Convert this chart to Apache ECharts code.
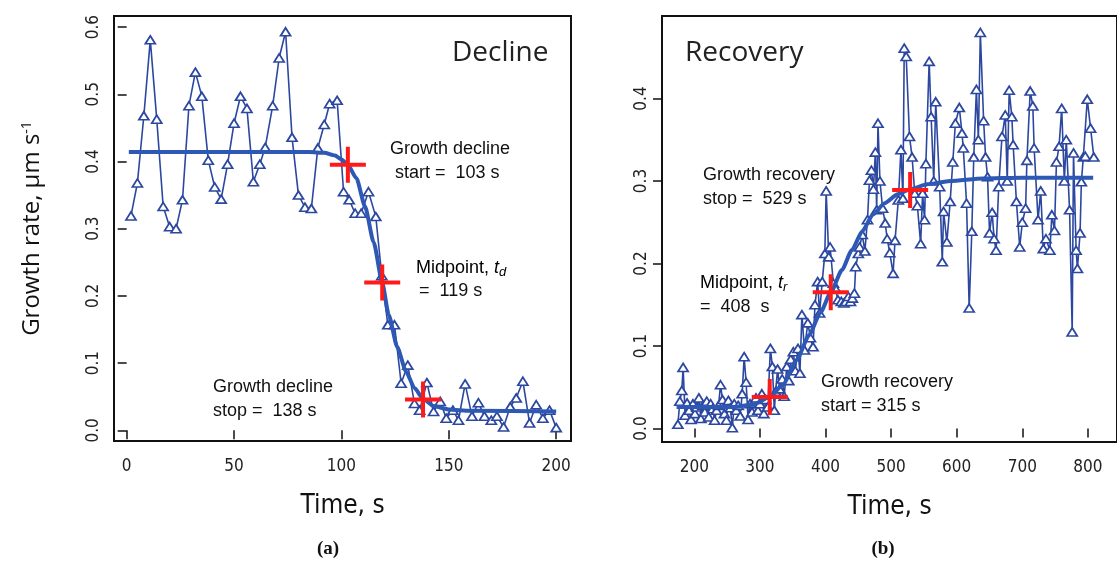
<!DOCTYPE html>
<html><head><meta charset="utf-8">
<script src="https://cdn.jsdelivr.net/npm/echarts@6/dist/echarts.min.js"></script>
<style>html,body{margin:0;padding:0;background:#fff}#c{width:1117px;height:567px}</style>
</head><body><div id="c"></div>
<script>
// ---- Panel (a): Decline ----
const timeA = [2,5,8,11,14,17,20,23,26,29,32,35,38,41,44,47,50,53,56,59,62,64.5,68,71,74,77,80,83,86,89,92,94.5,98,101,103.6,106.4,109.2,112.6,116,118.8,121.6,124.7,127.8,130.9,134,136.4,139.8,142.9,146,148.8,151.9,154.5,157.6,160.8,163.8,166.6,169.8,172.4,175.5,178.6,181.4,184.5,187.6,190.7,193.8,196.9,200];
const rateA = [0.319,0.368,0.468,0.581,0.463,0.333,0.303,0.300,0.343,0.483,0.533,0.497,0.402,0.362,0.344,0.396,0.457,0.497,0.479,0.370,0.396,0.421,0.483,0.554,0.593,0.436,0.350,0.332,0.330,0.420,0.455,0.486,0.491,0.355,0.343,0.323,0.323,0.355,0.318,0.230,0.157,0.157,0.070,0.097,0.040,0.030,0.071,0.028,0.043,0.018,0.030,0.015,0.069,0.021,0.041,0.021,0.015,0.021,0.005,0.035,0.048,0.073,0.011,0.038,0.018,0.030,0.004];
const fitTimeA = [1,85,92,97,100,103,107,111,115,119,122,126,130,134,138,143,150,160,200];
const fitRateA = [0.414,0.414,0.413,0.409,0.403,0.395,0.375,0.333,0.280,0.220,0.172,0.124,0.088,0.063,0.047,0.036,0.031,0.029,0.028];
const markTimeA = [103,119,138];
const markRateA = [0.395,0.220,0.046];
const xTicksA = [0,50,100,150,200];
const yTicksA = [0,0.1,0.2,0.3,0.4,0.5,0.6];

// ---- Panel (b): Recovery ----
const timeB = [175,178,181,183,186,189,192,195,198,201,204,207,210,213,216,219,222,225,228,231,234,237,240,243,246,249,252,255,258,261,264,267,270,273,276,279,282,285,288,291,294,297,300,303,306,309,312,316,319,322,324,327,330,334,337,341,344,347,351,354,358,361,364,368,373,377,381,384,388,391,395,399,401,405,407,412,415,419,424,428,431,435,438,441,444,446,450,452,456,460,464,467,470,473,476,478,480,483,487,491,494,498,503,506,511,515,518,520,523,528,532,536,540,545,548,551,553,558,561,565,568,574,578,580,585,590,594,598,604,608,610,615,619,623,626,630,633,636,641,644,647,650,654,657,660,664,669,674,677,680,684,686,691,696,700,705,707,712,716,718,724,728,732,736,742,745,749,752,756,760,764,767,772,776,778,782,784,788,790,793,796,799,804,809];
const rateB = [0.005,0.033,0.046,0.074,0.016,0.031,0.022,0.011,0.030,0.018,0.026,0.037,0.012,0.028,0.020,0.033,0.014,0.030,0.024,0.010,0.022,0.028,0.053,0.035,0.018,0.010,0.034,0.025,0.001,0.030,0.022,0.028,0.015,0.042,0.087,0.056,0.011,0.030,0.020,0.031,0.037,0.022,0.030,0.042,0.018,0.035,0.026,0.097,0.075,0.022,0.045,0.072,0.048,0.060,0.039,0.075,0.058,0.084,0.093,0.070,0.097,0.067,0.138,0.095,0.128,0.110,0.099,0.150,0.178,0.140,0.178,0.212,0.288,0.208,0.220,0.176,0.170,0.156,0.154,0.152,0.154,0.160,0.154,0.158,0.164,0.196,0.212,0.220,0.235,0.215,0.253,0.301,0.313,0.290,0.335,0.265,0.370,0.300,0.267,0.249,0.230,0.213,0.188,0.228,0.277,0.338,0.279,0.461,0.451,0.354,0.329,0.285,0.270,0.224,0.285,0.253,0.321,0.445,0.378,0.300,0.396,0.293,0.202,0.263,0.226,0.275,0.323,0.370,0.389,0.358,0.340,0.273,0.146,0.239,0.329,0.411,0.350,0.480,0.373,0.329,0.305,0.237,0.262,0.230,0.216,0.293,0.354,0.380,0.300,0.410,0.378,0.344,0.275,0.220,0.250,0.267,0.325,0.409,0.391,0.340,0.253,0.288,0.218,0.230,0.216,0.259,0.240,0.323,0.342,0.388,0.300,0.350,0.265,0.117,0.334,0.216,0.194,0.237,0.299,0.329,0.330,0.399,0.364,0.329];
const fitTimeB = [173,260,290,315,335,356,375,392,408,425,440,456,472,490,510,529,555,590,640,700,808];
const fitRateB = [0.026,0.026,0.029,0.038,0.053,0.083,0.113,0.140,0.165,0.192,0.216,0.239,0.259,0.273,0.284,0.290,0.296,0.300,0.303,0.304,0.304];
const markTimeB = [315,408,529];
const markRateB = [0.038,0.165,0.289];
const xTicksB = [200,300,400,500,600,700,800];
const yTicksB = [0,0.1,0.2,0.3,0.4];

const zip = (a,b) => a.map((v,i)=>[v,b[i]]);
const BLUE = '#2c479f', FIT = '#2d58b4', RED = '#ff1a1a';
const NARROW = "'Liberation Sans Narrow','DejaVu Sans Condensed','Arial Narrow',sans-serif";
const SANS = "'Liberation Sans',Arial,sans-serif";
const MYRIAD = "'Open Sans','Noto Sans',sans-serif";
const CROSS = 'path://M16 0H20V16H36V20H20V36H16V20H0V16H16Z';

function xAxisCfg(idx, min, max, ticks){
  return {type:'value', gridIndex:idx, min, max,
    name:'Time, s', nameLocation:'middle', nameGap:52,
    nameTextStyle:{fontFamily:NARROW, fontSize:26, color:'#111'},
    axisLine:{show:false}, splitLine:{show:false},
    axisTick:{show:true, length:9, lineStyle:{color:'#111', width:1.5}, customValues:ticks},
    axisLabel:{fontFamily:NARROW, fontSize:17, color:'#222', margin:17, customValues:ticks, formatter:v=>String(v)}};
}
function yAxisCfg(idx, min, max, ticks){
  return {type:'value', gridIndex:idx, min, max,
    axisLine:{show:false}, splitLine:{show:false},
    axisTick:{show:true, length:9, lineStyle:{color:'#111', width:1.5}, customValues:ticks},
    axisLabel:{fontFamily:NARROW, fontSize:17, color:'#222', margin:12, rotate:90, customValues:ticks, formatter:v=>v.toFixed(1)}};
}
function dataSeries(idx, t, v){
  return {type:'line', xAxisIndex:idx, yAxisIndex:idx, data:zip(t,v), z:2,
    symbol:'triangle', symbolSize:[10,8], showSymbol:true,
    lineStyle:{color:BLUE, width:1.6}, itemStyle:{color:'#fff', borderColor:BLUE, borderWidth:1.7}};
}
function fitSeries(idx, t, v){
  return {type:'line', xAxisIndex:idx, yAxisIndex:idx, data:zip(t,v), z:3, smooth:0.2, smoothMonotone:'x',
    symbol:'none', lineStyle:{color:FIT, width:4}};
}
function markSeries(idx, t, v){
  return {type:'scatter', xAxisIndex:idx, yAxisIndex:idx, data:zip(t,v), z:5,
    symbol:CROSS, symbolSize:36, itemStyle:{color:RED, opacity:1}};
}
function txt(x, y, text, size, font, extra){
  return Object.assign({type:'text', x, y, z:10, style:Object.assign({text, fontSize:size, fontFamily:font, fill:'#111', verticalAlign:'middle', align:'left'}, extra||{})});
}
const richSub = {
  n:{fontSize:18, fontFamily:SANS, color:'#111'},
  i:{fontSize:18, fontFamily:SANS, fontStyle:'italic', color:'#111'},
  s:{fontSize:13, fontFamily:SANS, fontStyle:'italic', color:'#111', verticalAlign:'bottom', padding:[8,0,0,0]}
};

const chart = echarts.init(document.getElementById('c'), null, {renderer:'canvas'});
chart.setOption({
  animation:false,
  backgroundColor:'#fff',
  grid:[
    {left:114, top:16, width:457, height:425, show:true, borderColor:'#111', borderWidth:2, backgroundColor:'transparent'},
    {left:662, top:16, width:465, height:426, show:true, borderColor:'#111', borderWidth:2, backgroundColor:'transparent'}
  ],
  xAxis:[xAxisCfg(0,-5.9,206.9,xTicksA), xAxisCfg(1,150.8,844.3,xTicksB)],
  yAxis:[
    Object.assign(yAxisCfg(0,-0.0159,0.6165,yTicksA), {
      name:'{n|Growth rate, µm s}{sup|-1}', nameLocation:'middle', nameRotate:90, nameGap:70,
      nameTextStyle:{rich:{n:{fontFamily:MYRIAD, fontSize:24, color:'#111'}, sup:{fontFamily:MYRIAD, fontSize:14, color:'#111', verticalAlign:'top', padding:[0,0,10,0]}}}
    }),
    yAxisCfg(1,-0.0164,0.5,yTicksB)
  ],
  series:[
    dataSeries(0,timeA,rateA), fitSeries(0,fitTimeA,fitRateA), markSeries(0,markTimeA,markRateA),
    dataSeries(1,timeB,rateB), fitSeries(1,fitTimeB,fitRateB), markSeries(1,markTimeB,markRateB)
  ],
  graphic:[
    txt(452,53,'Decline',28,MYRIAD,{fill:'#222'}),
    txt(685,53,'Recovery',28,MYRIAD,{fill:'#222'}),
    txt(390,149,'Growth decline',18,SANS),
    txt(395,173,'start =  103 s',18,SANS),
    {type:'text', x:416, y:268, z:10, style:{text:'{n|Midpoint, }{i|t}{s|d}', rich:richSub, verticalAlign:'middle', align:'left'}},
    txt(419,291,'=  119 s',18,SANS),
    txt(213,387,'Growth decline',18,SANS),
    txt(213,411,'stop =  138 s',18,SANS),
    txt(703,175,'Growth recovery',18,SANS),
    txt(703,199,'stop =  529 s',18,SANS),
    {type:'text', x:700, y:283, z:10, style:{text:'{n|Midpoint, }{i|t}{s|r}', rich:richSub, verticalAlign:'middle', align:'left'}},
    txt(700,307,'=  408  s',18,SANS),
    txt(821,382,'Growth recovery',18,SANS),
    txt(821,406,'start = 315 s',18,SANS),
    txt(328,549,'(a)',19,"'Liberation Serif','DejaVu Serif',serif",{fontWeight:'bold', align:'center'}),
    txt(883,549,'(b)',19,"'Liberation Serif','DejaVu Serif',serif",{fontWeight:'bold', align:'center'})
  ]
});
</script></body></html>
